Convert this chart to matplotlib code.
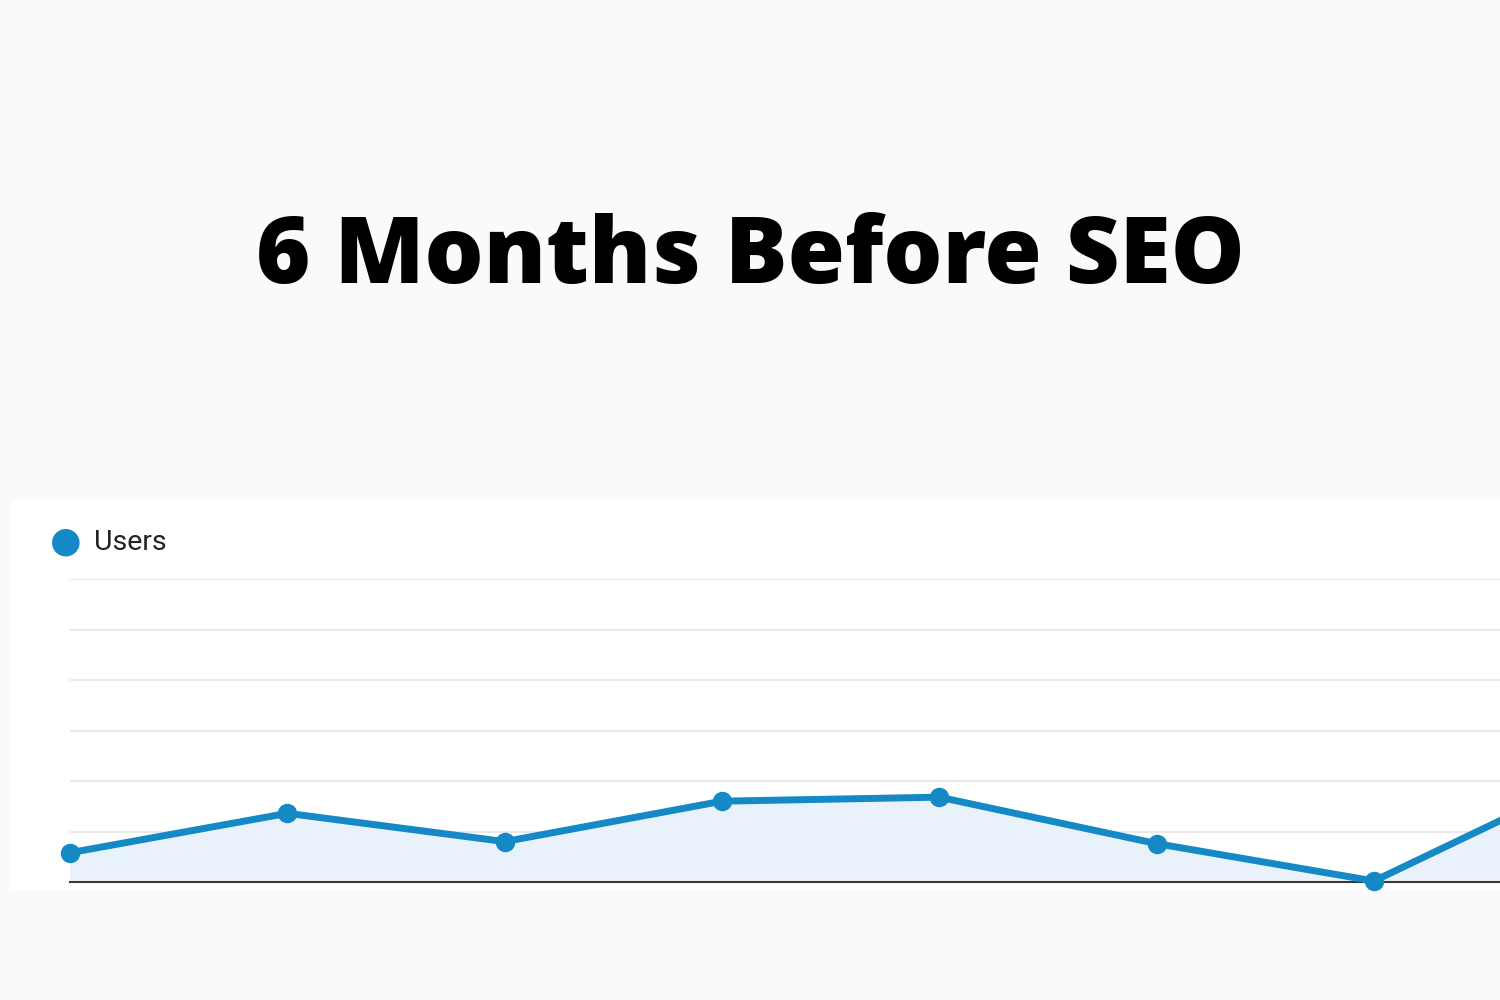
import numpy as np
import matplotlib.pyplot as plt

# data (users per period)
periods = [0, 1, 2, 3, 4, 5, 6, 7]
users = [29, 68, 40, 80, 84, 38, 1, 104]
grid_ticks = [0, 50, 100, 150, 200, 250, 300]

line_color = '#1589c6'
fill_color = '#e9f2fa'

fig = plt.figure(figsize=(15, 10), dpi=100)
fig.patch.set_facecolor('#fafafa')

# white card behind the chart
card = fig.add_axes([0.007, 0.11, 0.993, 0.39], zorder=0)
card.set_facecolor('white')
card.set_xticks([])
card.set_yticks([])
for s in card.spines.values():
    s.set_visible(False)

fig.text(0.5, 0.741, '6 Months Before SEO', ha='center', va='center',
         fontsize=67, fontweight='heavy', family='Open Sans', color='black')

# legend
fig.text(0.0435, 0.459, '\u25CF', ha='center', va='center', fontsize=26,
         color=line_color, family='DejaVu Sans')
fig.text(0.063, 0.458, 'Users', ha='left', va='center', fontsize=20.5,
         family='Roboto', color='#222222')

ax = fig.add_axes([0.0467, 0.118, 0.9533, 0.303], zorder=2)
ax.set_facecolor('none')
ax.fill_between(periods, users, 0, color=fill_color, zorder=1)
ax.plot(periods, users, color=line_color, lw=5, marker='o', markersize=13,
        zorder=3)

ax.set_xlim(0, 6.58)
ax.set_ylim(0, 300)
ax.set_yticks(grid_ticks)
ax.grid(axis='y', color='#e6e6e6', lw=1.3)
ax.set_axisbelow(True)
ax.axhline(0, color='#3a3a3a', lw=1.5, zorder=2)
ax.tick_params(left=False, bottom=False, labelleft=False, labelbottom=False)
for s in ax.spines.values():
    s.set_visible(False)
# let the first marker and the bottom one show fully
for ln in ax.lines:
    ln.set_clip_box(None)

plt.savefig('out.png', dpi=100, facecolor=fig.get_facecolor())
